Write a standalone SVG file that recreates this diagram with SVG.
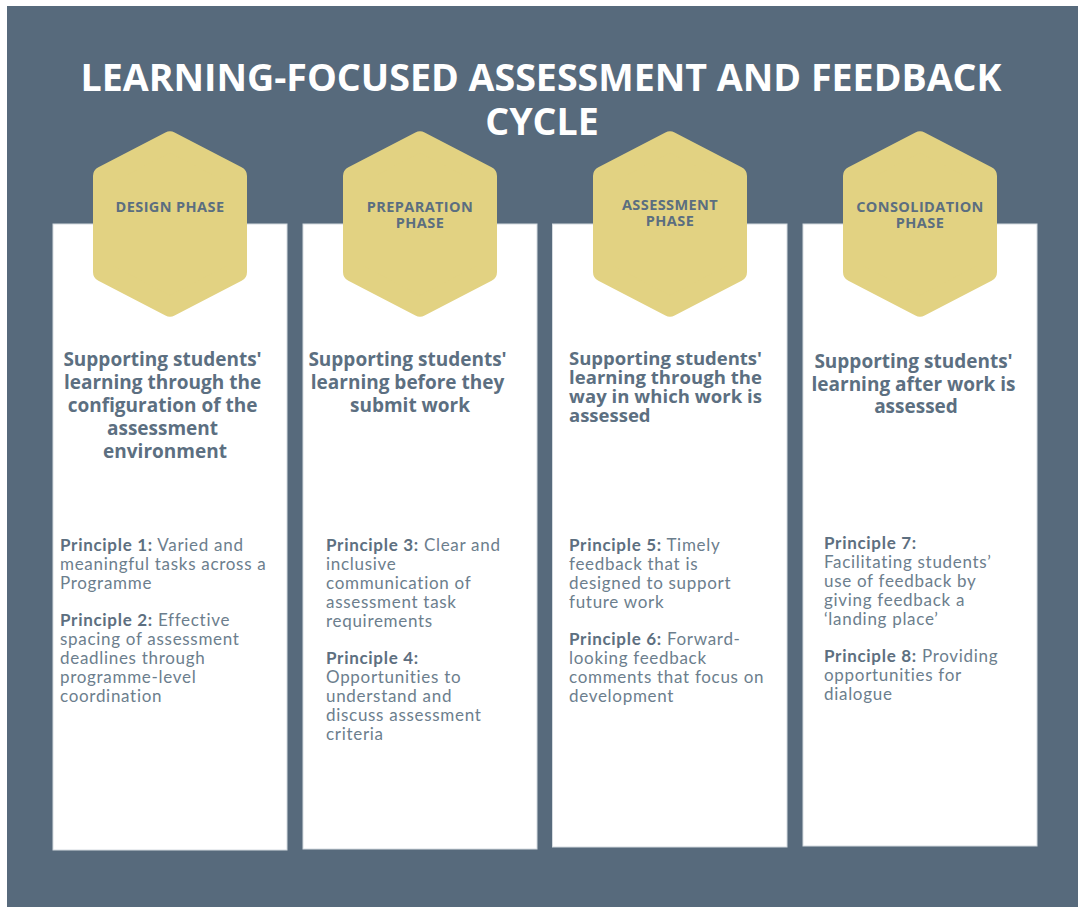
<svg xmlns="http://www.w3.org/2000/svg" xmlns:xlink="http://www.w3.org/1999/xlink" width="1078" height="907" viewBox="0 0 1078 907">
<style>
.bg{fill:#576a7c}
.panel{fill:#ffffff;stroke:#d5dbe0;stroke-width:1}
.hex{fill:#e2d282;stroke:#e2d282;stroke-width:20;stroke-linejoin:round}
.title{font-family:"Open Sans","DejaVu Sans",sans-serif;font-weight:700;font-size:37.6px;fill:#ffffff;text-anchor:middle}
.hlab{font-family:"Open Sans","DejaVu Sans",sans-serif;font-weight:700;font-size:14.5px;letter-spacing:0.4px;fill:#5b6e80;text-anchor:middle}
.head{font-family:"Open Sans","DejaVu Sans",sans-serif;font-weight:700;font-size:19px;fill:#5c6f81}
.h3{font-size:18.5px}
.mid{text-anchor:middle}
.body{font-family:Lato,"Liberation Sans",sans-serif;font-size:17px;letter-spacing:0.7px;fill:#6c7e8d}
.b{font-weight:700;fill:#5d6f80}
</style>
<defs>
<polygon id="hexshape" class="hex" points="0,-82.7 67,-47.9 67,47.9 0,82.7 -67,47.9 -67,-47.9"/>
</defs>
<rect x="0" y="0" width="1078" height="907" fill="#ffffff"/>
<rect class="bg" x="7" y="6" width="1071" height="901"/>
<g id="title">
<text class="title" x="541" y="91">LEARNING-FOCUSED ASSESSMENT AND FEEDBACK</text>
<text class="title" x="542" y="135">CYCLE</text>
</g>
<g id="connectors"></g>
<g id="design">
<rect class="panel" x="53" y="224" width="234" height="626"/>
<use xlink:href="#hexshape" x="170" y="224"/>
<text class="hlab" x="170" y="212">DESIGN PHASE</text>
<text class="head mid" x="166">
<tspan x="165" y="366">Supporting students'</tspan>
<tspan x="165" y="389">learning through the</tspan>
<tspan x="165" y="412">configuration of the</tspan>
<tspan x="165" y="435">assessment</tspan>
<tspan x="165" y="458">environment</tspan>
</text>
<text class="body">
<tspan x="60" y="551"><tspan class="b">Principle 1:</tspan> Varied and</tspan>
<tspan x="60" y="570">meaningful tasks across a</tspan>
<tspan x="60" y="589">Programme</tspan>
<tspan x="60" y="626"><tspan class="b">Principle 2:</tspan> Effective</tspan>
<tspan x="60" y="645">spacing of assessment</tspan>
<tspan x="60" y="664">deadlines through</tspan>
<tspan x="60" y="683">programme-level</tspan>
<tspan x="60" y="702">coordination</tspan>
</text>
</g>
<g id="preparation">
<rect class="panel" x="303" y="224" width="234" height="625"/>
<use xlink:href="#hexshape" x="420" y="224"/>
<text class="hlab" x="420" y="211.5">PREPARATION</text>
<text class="hlab" x="420" y="227.5">PHASE</text>
<text class="head mid">
<tspan x="410" y="366">Supporting students'</tspan>
<tspan x="410" y="389">learning before they</tspan>
<tspan x="410" y="412">submit work</tspan>
</text>
<text class="body">
<tspan x="326" y="551"><tspan class="b">Principle 3:</tspan> Clear and</tspan>
<tspan x="326" y="570">inclusive</tspan>
<tspan x="326" y="589">communication of</tspan>
<tspan x="326" y="608">assessment task</tspan>
<tspan x="326" y="627">requirements</tspan>
<tspan x="326" y="664" class="b">Principle 4:</tspan>
<tspan x="326" y="683">Opportunities to</tspan>
<tspan x="326" y="702">understand and</tspan>
<tspan x="326" y="721">discuss assessment</tspan>
<tspan x="326" y="740">criteria</tspan>
</text>
</g>
<g id="assessment">
<rect class="panel" x="552.5" y="224" width="234.5" height="623"/>
<use xlink:href="#hexshape" x="670" y="224"/>
<text class="hlab" x="670" y="209.5">ASSESSMENT</text>
<text class="hlab" x="670" y="225.5">PHASE</text>
<text class="head h3" x="569" y="365" textLength="193" lengthAdjust="spacing">Supporting students'</text>
<text class="head h3" x="569" y="384" textLength="193" lengthAdjust="spacing">learning through the</text>
<text class="head h3" x="569" y="403" textLength="193" lengthAdjust="spacing">way in which work is</text>
<text class="head h3" x="569" y="422">assessed</text>
<text class="body">
<tspan x="569" y="551"><tspan class="b">Principle 5:</tspan> Timely</tspan>
<tspan x="569" y="570">feedback that is</tspan>
<tspan x="569" y="589">designed to support</tspan>
<tspan x="569" y="608">future work</tspan>
<tspan x="569" y="645"><tspan class="b">Principle 6:</tspan> Forward-</tspan>
<tspan x="569" y="664">looking feedback</tspan>
<tspan x="569" y="683">comments that focus on</tspan>
<tspan x="569" y="702">development</tspan>
</text>
</g>
<g id="consolidation">
<rect class="panel" x="803" y="224" width="234" height="622"/>
<use xlink:href="#hexshape" x="920" y="224"/>
<text class="hlab" x="920" y="211.5">CONSOLIDATION</text>
<text class="hlab" x="920" y="227.5">PHASE</text>
<text class="head mid">
<tspan x="916" y="368">Supporting students'</tspan>
<tspan x="916" y="391">learning after work is</tspan>
<tspan x="916" y="413">assessed</tspan>
</text>
<text class="body">
<tspan x="824" y="549" class="b">Principle 7:</tspan>
<tspan x="824" y="568">Facilitating students’</tspan>
<tspan x="824" y="587">use of feedback by</tspan>
<tspan x="824" y="606">giving feedback a</tspan>
<tspan x="824" y="625">‘landing place’</tspan>
<tspan x="824" y="662"><tspan class="b">Principle 8:</tspan> Providing</tspan>
<tspan x="824" y="681">opportunities for</tspan>
<tspan x="824" y="700">dialogue</tspan>
</text>
</g>
</svg>
